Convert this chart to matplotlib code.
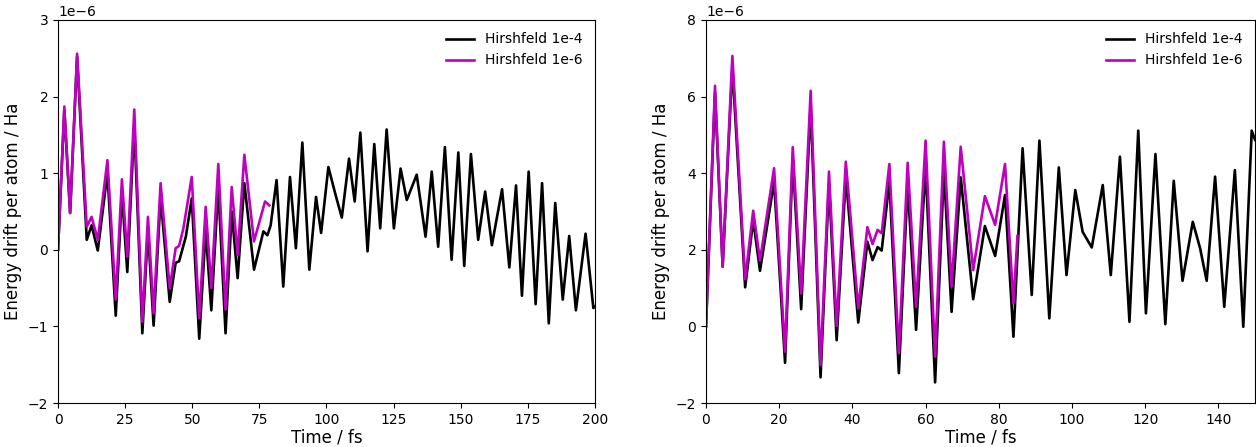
import numpy as np
import matplotlib
matplotlib.use('Agg')
import matplotlib.pyplot as plt


# left panel: time (fs), energy drift (1e-6 Ha)
t_left_4 = [0, 2.35, 4.5, 7.1, 10.7, 12.5, 14.8, 18.4, 21.5, 23.8,
            25.8, 28.4, 31.4, 33.5, 35.6, 38.2, 41.6, 43.8, 45.1, 47.6,
            49.8, 52.6, 55.0, 57.1, 59.7, 62.4, 64.7, 66.9, 69.4, 73.0,
            76.5, 78.0, 79.2, 81.4, 83.9, 86.4, 88.6, 91.0, 93.6, 96.1,
            98.0, 100.7, 103.2, 105.7, 108.4, 110.5, 112.6, 115.3, 117.8, 120.0,
            122.4, 125.1, 127.6, 129.9, 133.6, 136.9, 139.2, 141.6, 144.1, 146.6,
            149.1, 151.3, 153.8, 156.5, 159.1, 161.6, 165.4, 168.1, 170.6, 172.8,
            175.3, 177.9, 180.3, 182.8, 185.2, 188.0, 190.4, 192.9, 196.5, 199.4, 200]
e_left_4 = [0, 1.82, 0.48, 2.52, 0.13, 0.32, -0.01, 1.00, -0.86, 0.74,
            -0.29, 1.63, -1.09, 0.26, -0.99, 0.69, -0.68, -0.17, -0.15, 0.17,
            0.67, -1.16, 0.26, -0.79, 0.82, -1.09, 0.50, -0.37, 0.87, -0.26,
            0.24, 0.19, 0.32, 0.91, -0.48, 0.95, 0.02, 1.40, -0.26, 0.69,
            0.22, 1.08, 0.74, 0.42, 1.19, 0.63, 1.53, -0.02, 1.38, 0.28,
            1.57, 0.28, 1.06, 0.65, 0.98, 0.17, 1.02, 0.04, 1.34, -0.13,
            1.27, -0.21, 1.25, 0.13, 0.76, 0.06, 0.79, -0.23, 0.84, -0.60,
            1.02, -0.71, 0.87, -0.96, 0.61, -0.65, 0.18, -0.79, 0.21, -0.76, -0.74]

t_left_6 = [0, 2.35, 4.5, 7.1, 10.7, 12.5, 14.8, 18.4, 21.5, 23.8,
            25.8, 28.4, 31.4, 33.5, 35.6, 38.2, 41.6, 43.8, 45.1, 46.7,
            49.8, 52.6, 55.0, 57.1, 59.7, 62.4, 64.7, 66.9, 69.4, 73.0,
            77.1, 78.7]
e_left_6 = [0, 1.87, 0.48, 2.56, 0.30, 0.43, 0.13, 1.17, -0.65, 0.92,
            -0.09, 1.83, -0.94, 0.43, -0.83, 0.87, -0.50, 0.02, 0.05, 0.28,
            0.95, -0.89, 0.56, -0.50, 1.12, -0.78, 0.82, -0.07, 1.24, 0.11,
            0.63, 0.58]

# right panel
t_right_4 = [0, 2.46, 4.55, 7.2, 10.7, 12.9, 14.75, 18.6, 21.6, 23.7,
             26.0, 28.6, 31.3, 33.6, 35.7, 38.2, 41.6, 44.1, 45.5, 46.9,
             48.0, 50.1, 52.7, 55.1, 57.4, 60.0, 62.6, 65.0, 67.1, 69.6,
             73.0, 76.2, 79.0, 81.7, 84.0, 86.5, 89.0, 91.1, 93.8, 96.4,
             98.5, 100.9, 102.9, 105.4, 108.4, 110.6, 113.1, 115.7, 118.1, 120.2,
             122.8, 125.5, 127.8, 130.2, 133.0, 135.0, 136.8, 139.1, 141.6, 144.5,
             146.8, 149.1, 150]
e_right_4 = [0, 6.1, 1.56, 6.78, 1.02, 2.78, 1.45, 3.78, -0.95, 4.39,
             0.45, 5.78, -1.33, 3.74, -0.36, 3.91, 0.10, 2.21, 1.73, 2.07,
             1.98, 3.78, -1.22, 3.72, -0.09, 4.19, -1.46, 4.08, 0.38, 3.89,
             0.71, 2.62, 1.84, 3.43, -0.27, 4.65, 0.82, 4.85, 0.21, 4.15,
             1.34, 3.56, 2.47, 2.06, 3.69, 1.34, 4.43, 0.12, 5.11, 0.34,
             4.50, 0.06, 3.80, 1.19, 2.73, 2.04, 1.19, 3.91, 0.51, 4.08,
             -0.01, 5.11, 4.87]

t_right_6 = [0, 2.46, 4.55, 7.2, 10.7, 12.9, 14.75, 18.6, 21.6, 23.7,
             26.0, 28.6, 31.3, 33.6, 35.7, 38.2, 41.6, 44.1, 45.5, 46.9,
             48.0, 50.1, 52.7, 55.1, 57.4, 60.0, 62.6, 65.0, 67.1, 69.6,
             73.0, 76.2, 79.0, 81.7, 84.0, 85.1]
e_right_6 = [0, 6.28, 1.56, 7.06, 1.23, 3.02, 1.72, 4.13, -0.66, 4.68,
             0.86, 6.15, -1.01, 4.04, 0.01, 4.30, 0.47, 2.59, 2.15, 2.52,
             2.43, 4.24, -0.70, 4.27, 0.51, 4.85, -0.79, 4.82, 1.04, 4.69,
             1.47, 3.40, 2.65, 4.24, 0.60, 2.36]

labels = ['Hirshfeld 1e-4', 'Hirshfeld 1e-6']


def plot_panel(ax, t4, e4, t6, e6, xlim, xticks, ylim):
	ax.plot(t4, np.array(e4) * 1e-6, '-k', lw=1.9, label=labels[0],
			solid_joinstyle='round')
	ax.plot(t6, np.array(e6) * 1e-6, '-m', lw=1.9, label=labels[1],
			solid_joinstyle='round')
	ax.set_xlim(*xlim)
	ax.set_xticks(xticks)
	ax.set_ylim(ylim[0] * 1e-6, ylim[1] * 1e-6)
	ax.set_xlabel('Time / fs', fontsize=12, labelpad=1)
	ax.set_ylabel('Energy drift per atom / Ha', fontsize=12)
	ax.legend(loc='upper right', frameon=False, fontsize=10)


fig = plt.figure(figsize=(12.56, 4.47), dpi=100)
ax1 = fig.add_axes([0.0462, 0.0984, 0.4275, 0.857])
ax2 = fig.add_axes([0.5621, 0.0984, 0.4371, 0.857])

plot_panel(ax1, t_left_4, e_left_4, t_left_6, e_left_6,
		   (0, 200), range(0, 201, 25), (-2, 3))
plot_panel(ax2, t_right_4, e_right_4, t_right_6, e_right_6,
		   (0, 150), range(0, 141, 20), (-2, 8))

plt.savefig('out.png', dpi=100)
